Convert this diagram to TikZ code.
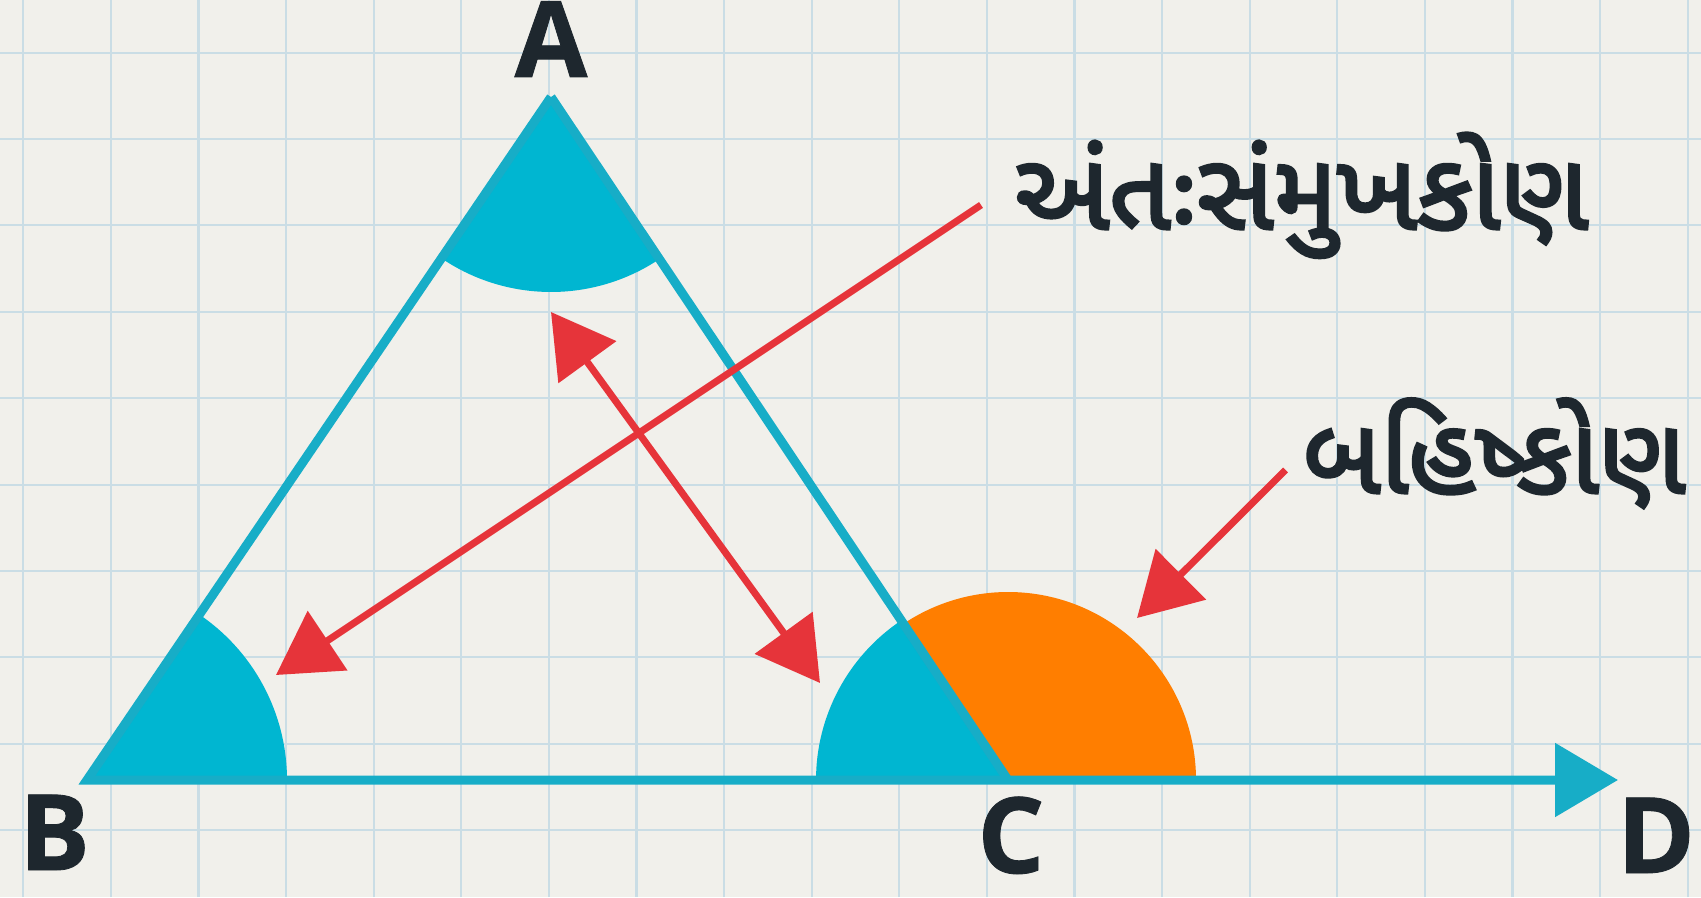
\documentclass[tikz,border=0pt]{standalone}
\usepackage{fontspec}
\newfontfamily\lblfont{Open Sans}[BoldFeatures={FakeBold=0.8}]
\newfontfamily\gujfont[Script=Gujarati,FakeBold=3]{Noto Sans Gujarati UI}
\usetikzlibrary{arrows.meta}
\definecolor{paper}{HTML}{F1F0EB}
\definecolor{gridblue}{HTML}{CADDE5}
\definecolor{tealfill}{HTML}{00B6D1}
\definecolor{tealline}{HTML}{17ADC7}
\definecolor{angleorange}{HTML}{FF7E00}
\definecolor{pointerred}{HTML}{E6343A}
\definecolor{ink}{HTML}{1E272E}

\begin{document}
\begin{tikzpicture}[
  gridline/.style={gridblue,line width=0.6pt},
  side/.style={tealline,line width=0.09cm},
  wedge/.style={fill=tealfill},
  extwedge/.style={fill=angleorange},
  ptr/.style={pointerred,line width=0.07cm,-{Triangle[length=0.62cm,width=0.70cm]}},
  dptr/.style={pointerred,line width=0.07cm,{Triangle[length=0.62cm,width=0.70cm]}-{Triangle[length=0.62cm,width=0.70cm]}},
  vlbl/.style={font=\lblfont\bfseries\fontsize{30}{32}\selectfont,text=ink,inner sep=0pt,anchor=base},
  glbl/.style={font=\gujfont\fontsize{30.5}{36}\selectfont,text=ink,inner sep=0pt,anchor=base west}
]
\fill[paper] (0,0) rectangle (17.01,8.97);
\useasboundingbox (0,0) rectangle (17.01,8.97);
\foreach \i in {0,...,19} \draw[gridline] ({0.233+0.876*\i},0) -- ({0.233+0.876*\i},8.97);
\foreach \j in {0,...,9} \draw[gridline] (0,{8.444-0.864*\j}) -- (17.01,{8.444-0.864*\j});

\coordinate (A) at (5.51,8.00);
\coordinate (B) at (0.87,1.17);
\coordinate (C) at (10.08,1.17);
\coordinate (D) at (16.18,1.17);

\fill[wedge] (B) -- ++(0:2.0) arc[start angle=0,end angle=55.81,radius=2.0] -- cycle;
\fill[wedge] (A) -- ++(235.81:1.95) arc[start angle=235.81,end angle=303.79,radius=1.95] -- cycle;
\fill[wedge] (C) -- ++(123.79:1.92) arc[start angle=123.79,end angle=180,radius=1.92] -- cycle;
\fill[extwedge] (C) -- ++(0:1.88) arc[start angle=0,end angle=123.79,radius=1.88] -- cycle;

\draw[side,-{Triangle[length=0.63cm,width=0.72cm]}] (A) -- (B) -- (D);
\draw[side] (A) -- (C);

\node[vlbl] (la) at (5.51,8.20) {A};
\node[vlbl] (lb) at (0.545,0.27) {B};
\node[vlbl] (lc) at (10.11,0.24) {C};
\node[vlbl] (ld) at (16.56,0.24) {D};

\node[glbl] (inner) at (10.14,6.68) {અંતઃસંમુખકોણ};
\node[glbl,font=\gujfont\fontsize{30}{36}\selectfont,anchor=base east] (outer) at (16.86,4.04) {બહિષ્કોણ};

\coordinate (intail) at (9.81,6.92);
\coordinate (inhead) at (2.76,2.22);
\coordinate (dtop) at (5.51,5.85);
\coordinate (dbot) at (8.20,2.14);
\coordinate (extail) at (12.855,4.27);
\coordinate (exhead) at (11.37,2.79);

\draw[ptr] (intail) -- (inhead);
\draw[dptr] (dtop) -- (dbot);
\draw[ptr] (extail) -- (exhead);
\end{tikzpicture}
\end{document}
